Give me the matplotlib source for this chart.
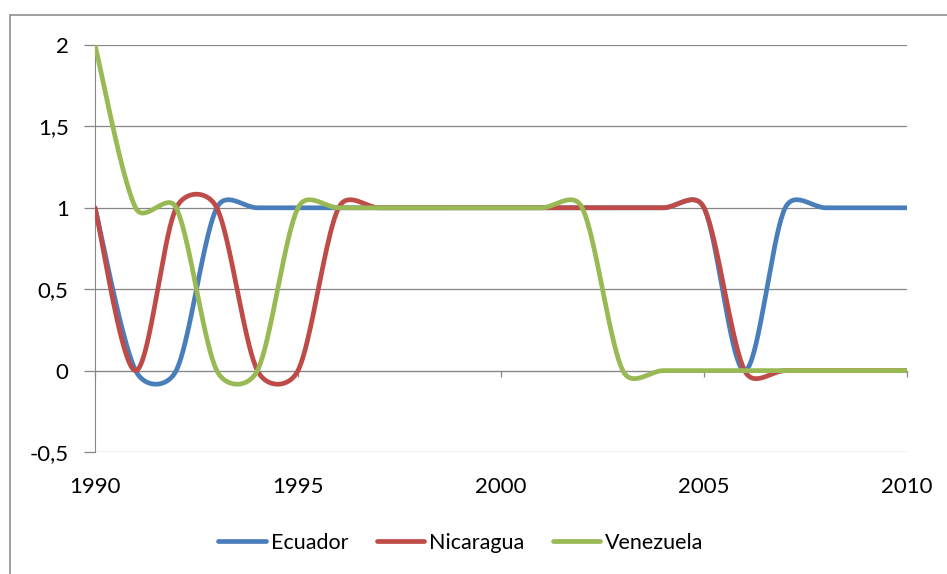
import numpy as np
import matplotlib
matplotlib.use("Agg")
import matplotlib.pyplot as plt
from matplotlib.patches import Rectangle
from matplotlib.ticker import FuncFormatter, MultipleLocator

plt.rcParams['font.family'] = ['Lato', 'DejaVu Sans']

years = list(range(1990, 2011))
ecuador = [1, 0, 0, 1, 1, 1, 1, 1, 1, 1, 1, 1, 1, 1, 1, 1, 0, 1, 1, 1, 1]
nicaragua = [1, 0, 1, 1, 0, 0, 1, 1, 1, 1, 1, 1, 1, 1, 1, 1, 0, 0, 0, 0, 0]
venezuela = [2, 1, 1, 0, 0, 1, 1, 1, 1, 1, 1, 1, 1, 0, 0, 0, 0, 0, 0, 0, 0]

series = [("Ecuador", ecuador, "#4a7ebb"),
          ("Nicaragua", nicaragua, "#be4b48"),
          ("Venezuela", venezuela, "#98b954")]

GRAY = "#868686"


def smooth(ax, xs, ys, n=40):
    """Bezier smoothing done in display space, spreadsheet style."""
    pts = ax.transData.transform(np.column_stack([xs, ys]))
    out = []
    m = len(pts)
    for i in range(m - 1):
        p0 = pts[max(i - 1, 0)]
        p1 = pts[i]
        p2 = pts[i + 1]
        p3 = pts[min(i + 2, m - 1)]
        d02 = np.hypot(*(p2 - p0))
        d12 = np.hypot(*(p2 - p1))
        d13 = np.hypot(*(p3 - p1))
        f1 = 1 / 6 if d02 / 6 < d12 / 2 else d12 / (2 * d02)
        f2 = 1 / 6 if d13 / 6 < d12 / 2 else d12 / (2 * d13)
        c1 = p1 + f1 * (p2 - p0)
        c2 = p2 - f2 * (p3 - p1)
        t = np.linspace(0, 1, n)[:, None]
        seg = ((1 - t) ** 3 * p1 + 3 * (1 - t) ** 2 * t * c1
               + 3 * (1 - t) * t ** 2 * c2 + t ** 3 * p2)
        out.append(seg if i == 0 else seg[1:])
    data = ax.transData.inverted().transform(np.vstack(out))
    return data[:, 0], data[:, 1]


W, H = 947, 574
fig = plt.figure(figsize=(W / 100, H / 100), dpi=100)
ax = fig.add_axes([95 / W, 1 - 452 / H, 812 / W, 407 / H])
ax.set_xlim(1990, 2010)
ax.set_ylim(-0.5, 2)

# outer chart frame
fig.patches.append(Rectangle((10 / W, -0.1), 1.2, 1 - 15 / H + 0.1,
                             transform=fig.transFigure, fill=False,
                             edgecolor=GRAY, lw=1.1))

for name, vals, col in series:
    sx, sy = smooth(ax, years, vals)
    ax.plot(sx, sy, color=col, lw=3.4, label=name,
            solid_capstyle='round', solid_joinstyle='round', zorder=3)

for s in ("top", "right", "bottom"):
    ax.spines[s].set_visible(False)
ax.spines["left"].set_color(GRAY)
ax.yaxis.set_major_locator(MultipleLocator(0.5))
ax.yaxis.set_major_formatter(FuncFormatter(lambda v, p: f"{v:g}".replace(".", ",")))
ax.yaxis.grid(True, color=GRAY, lw=0.9)
ax.set_axisbelow(True)
ax.tick_params(axis="y", direction="out", length=8, width=0.9, color=GRAY,
               pad=11, labelsize=16)

ax.set_xticks([1990, 1995, 2000, 2005, 2010])
ax.tick_params(axis="x", length=0, pad=18, labelsize=16)

# horizontal axis line crossing at zero
sec = ax.secondary_xaxis(0, transform=ax.transData)
sec.set_xticks([1990, 1995, 2000, 2005, 2010])
sec.spines["bottom"].set_color(GRAY)
sec.tick_params(axis="x", direction="out", length=4, width=0.9, color=GRAY,
                labelbottom=False)

fig.legend(loc="center", bbox_to_anchor=(461 / W, 1 - 543 / H), ncol=3,
           frameon=False, fontsize=15.5, handlelength=2.2, handletextpad=0.25,
           columnspacing=1.3)

fig.savefig("out.png", dpi=100)
